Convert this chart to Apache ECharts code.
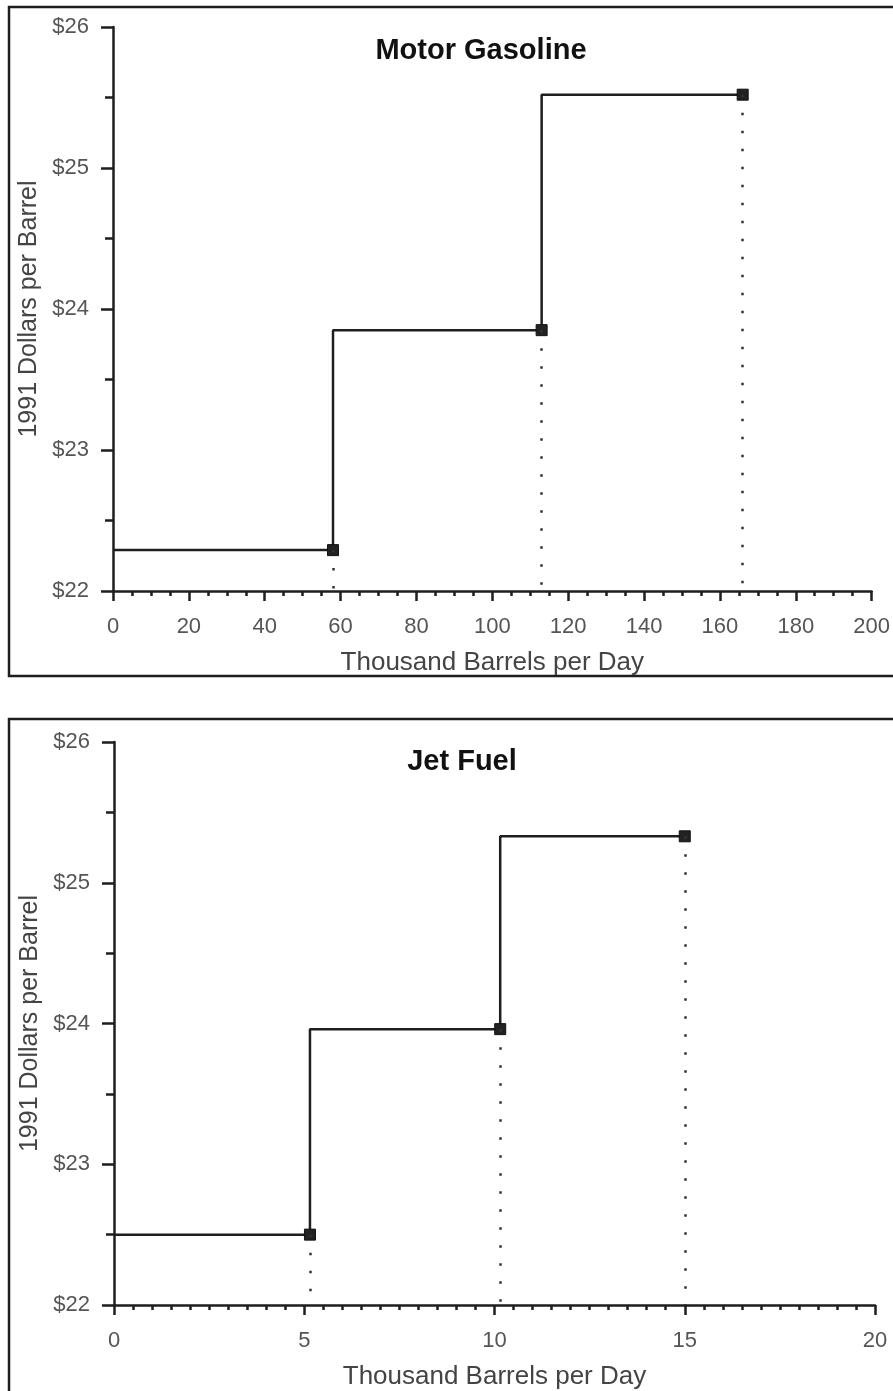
<!DOCTYPE html>
<html>
<head>
<meta charset="utf-8">
<script src="https://cdn.jsdelivr.net/npm/echarts@6/dist/echarts.min.js"></script>
<style>
html,body{margin:0;padding:0;background:#fff;}
#chart{width:893px;height:1391px;}
</style>
</head>
<body>
<div id="chart"></div>
<script>
// ---- data ----
const gasTitle = 'Motor Gasoline';
const gasQty = [58, 113, 166];          // cumulative thousand barrels per day
const gasPrice = [22.29, 23.85, 25.52]; // 1991 dollars per barrel
const gasXMax = 200, gasXStep = 20;

const jetTitle = 'Jet Fuel';
const jetQty = [5.15, 10.15, 15];
const jetPrice = [22.5, 23.96, 25.33];
const jetXMax = 20, jetXStep = 5;

const yMin = 22, yMax = 26, yStep = 1;
const xName = 'Thousand Barrels per Day';
const yName = '1991 Dollars per Barrel';

// ---- build ----
const FONT = 'Liberation Sans, Arial, sans-serif';
const INK = '#1e1e1e';

function stepData(qty, price) {
  const d = [{ value: [0, price[0]], symbol: 'none' }];
  qty.forEach((q, i) => d.push({ value: [q, price[i]] }));
  return d;
}
function dropLines(qty, price) {
  return qty.map((q, i) => [{ coord: [q, price[i]] }, { coord: [q, yMin] }]);
}
function xAxis(idx, max, step, minorSplit) {
  return {
    type: 'value', gridIndex: idx, min: 0, max: max, interval: step,
    axisLine: { show: true, onZero: false, lineStyle: { color: INK, width: 2.5 } },
    axisTick: { show: true, length: 10, lineStyle: { color: INK, width: 2.5 } },
    minorTick: { show: true, splitNumber: minorSplit, length: 5, lineStyle: { color: INK, width: 2.5 } },
    splitLine: { show: false },
    axisLabel: { margin: 25, color: '#555', fontSize: 22, fontFamily: FONT },
    name: xName, nameLocation: 'middle', nameGap: 59,
    nameTextStyle: { color: '#444', fontSize: 26, fontFamily: FONT }
  };
}
function yAxis(idx) {
  return {
    type: 'value', gridIndex: idx, min: yMin, max: yMax, interval: yStep,
    axisLine: { show: true, lineStyle: { color: INK, width: 2.5 } },
    axisTick: { show: true, length: 12, lineStyle: { color: INK, width: 2.5 } },
    minorTick: { show: true, splitNumber: 2, length: 8, lineStyle: { color: INK, width: 2.5 } },
    splitLine: { show: false },
    axisLabel: { margin: 24, color: '#555', fontSize: 22, fontFamily: FONT, formatter: v => '$' + v },
    name: yName, nameLocation: 'middle', nameGap: 55,
    nameTextStyle: { color: '#444', fontSize: 25, fontFamily: FONT }
  };
}
function stepSeries(idx, qty, price) {
  return {
    type: 'line', xAxisIndex: idx, yAxisIndex: idx, step: 'start',
    data: stepData(qty, price),
    symbol: 'rect', symbolSize: 11, showSymbol: true,
    itemStyle: { color: '#222', borderColor: '#111', borderWidth: 1 },
    lineStyle: { color: INK, width: 2.5 },
    animation: false, silent: true,
    markLine: {
      silent: true, symbol: ['none', 'none'], animation: false,
      label: { show: false },
      lineStyle: { color: '#333', width: 2.5, type: [2.5, 15.5] },
      data: dropLines(qty, price)
    }
  };
}

const chart = echarts.init(document.getElementById('chart'), null, { renderer: 'canvas' });
chart.setOption({
  backgroundColor: '#fff',
  animation: false,
  grid: [
    { left: 113, top: 27, width: 760, height: 564 },
    { left: 114, top: 742, width: 761, height: 565 }
  ],
  xAxis: [xAxis(0, gasXMax, gasXStep, 4), xAxis(1, jetXMax, jetXStep, 10)],
  yAxis: [yAxis(0), yAxis(1)],
  series: [stepSeries(0, gasQty, gasPrice), stepSeries(1, jetQty, jetPrice)],
  graphic: [
    { type: 'rect', shape: { x: 9, y: 7, width: 900, height: 669 }, style: { fill: 'none', stroke: INK, lineWidth: 2.5 }, silent: true },
    { type: 'rect', shape: { x: 9, y: 719, width: 900, height: 720 }, style: { fill: 'none', stroke: INK, lineWidth: 2.5 }, silent: true },
    { type: 'text', x: 481, y: 51, style: { text: gasTitle, align: 'center', verticalAlign: 'middle', font: 'bold 29px ' + FONT, fill: '#111' } },
    { type: 'text', x: 462, y: 762, style: { text: jetTitle, align: 'center', verticalAlign: 'middle', font: 'bold 29px ' + FONT, fill: '#111' } }
  ]
});
</script>
</body>
</html>
